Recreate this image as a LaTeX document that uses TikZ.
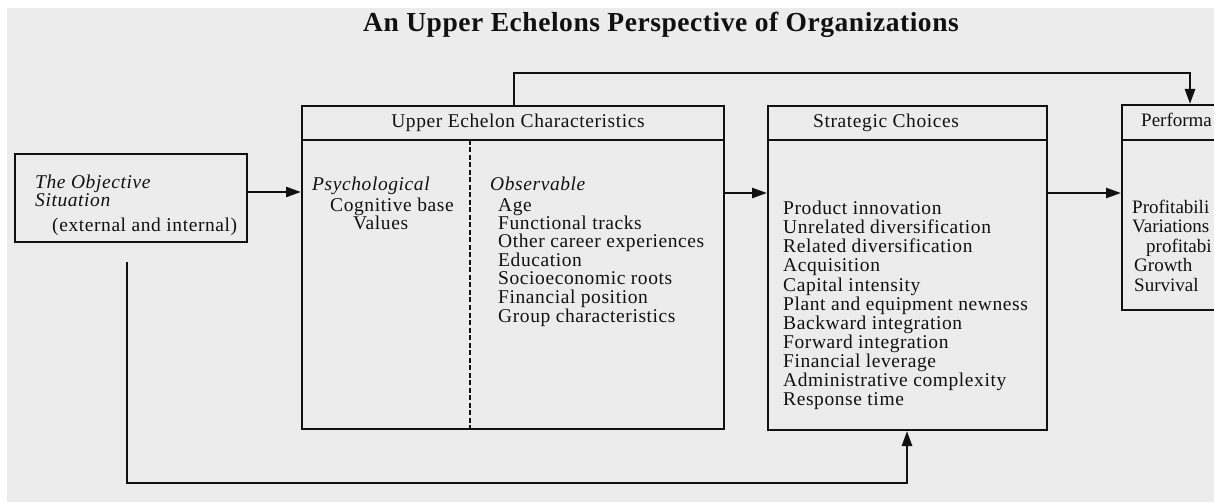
\documentclass[tikz,border=0pt]{standalone}
\usepackage{fontspec}
\setmainfont{Liberation Serif}[LetterSpace=3.0]
\newfontfamily\titlefont{Liberation Serif}[LetterSpace=2.0]
\newfontfamily\tightfont{Liberation Serif}
\usetikzlibrary{arrows.meta}
\definecolor{paper}{HTML}{ECECEC}
\definecolor{ink}{HTML}{111111}
\begin{document}
\begin{tikzpicture}[x=1pt,y=-1pt,
  box/.style={draw=ink, line width=2pt, inner sep=0pt},
  rule/.style={draw=ink, line width=2pt},
  divider/.style={draw=ink, line width=1.4pt, dash pattern=on 5pt off 2.5pt},
  link/.style={draw=ink, line width=2.5pt, -{Triangle[length=15pt,width=10pt]}},
  body/.style={inner sep=0pt, anchor=base west, text=ink, text height=12pt, text depth=3.5pt,
               font=\fontsize{19.5}{20}\selectfont},
  heading/.style={body},
  slanted/.style={body, font=\fontsize{19.5}{20}\selectfont\itshape},
  edgetext/.style={body, font=\tightfont\fontsize{19}{20}\selectfont}]
\useasboundingbox (0,0) rectangle (1214,502);
\fill[white] (0,0) rectangle (1214,502);
\fill[paper] (7,8) rectangle (1214,502);

% title
\node[inner sep=0pt, anchor=base, text=ink,
      font=\titlefont\bfseries\fontsize{27.5}{30}\selectfont] (title) at (661,32)
  {An Upper Echelons Perspective of Organizations};

\begin{scope}
\clip (0,0) rectangle (1214,502);

% boxes
\node[box, minimum width=232pt, minimum height=88pt] (obj) at (131,198) {};
\node[box, minimum width=422pt, minimum height=323pt] (ue) at (513,267.5) {};
\node[box, minimum width=279pt, minimum height=324pt] (strat) at (907.5,268) {};
\node[box, minimum width=198pt, minimum height=205pt] (perf) at (1221,207.5) {};

% heading rules
\coordinate (hy) at (0,140);
\draw[rule] (ue.west |- hy) -- (ue.east |- hy);
\draw[rule] (strat.west |- hy) -- (strat.east |- hy);
\draw[rule] (perf.west |- hy) -- (perf.east |- hy);

% dashed split between psychological and observable
\coordinate (divtop) at (470,140);
\draw[divider] (divtop) -- (ue.south -| divtop);

% headings
\node[heading, anchor=base] (uehead) at (518,128) {Upper Echelon Characteristics};
\node[heading] (strathead) at (813,128) {Strategic Choices};
\node[edgetext] (perfhead) at (1141,127) {Performa};

% objective situation
\node[slanted] (obj1) at (35,189) {The Objective};
\node[slanted] (obj2) at (35,207) {Situation};
\node[body] (obj3) at (52,232) {(external and internal)};

% psychological
\node[slanted] (psy) at (312,191) {Psychological};
\node[body] (psy1) at (330,212) {Cognitive base};
\node[body] (psy2) at (353,229.5) {Values};

% observable
\node[slanted] (obs) at (490,191) {Observable};
\foreach \t/\yy [count=\i] in {Age/212, Functional tracks/229.5,
    Other career experiences/248, Education/266.5, Socioeconomic roots/285,
    Financial position/303.5, Group characteristics/322}
  \node[body] (obs\i) at (498,\yy) {\t};

% strategic choices
\foreach \t [count=\i] in {Product innovation, Unrelated diversification,
    Related diversification, Acquisition, Capital intensity,
    Plant and equipment newness, Backward integration, Forward integration,
    Financial leverage, Administrative complexity, Response time}
  \node[body] (sc\i) at (783,196+19*\i) {\t};

% performance
\node[edgetext] (pf1) at (1132,214) {Profitabili};
\node[edgetext] (pf2) at (1132,233) {Variations};
\node[edgetext] (pf3) at (1146,253) {profitabi};
\node[edgetext] (pf4) at (1134,272) {Growth};
\node[edgetext] (pf5) at (1134,292) {Survival};

% connectors
\coordinate (ya) at (0,192);
\coordinate (yb) at (0,193);
\draw[link] (obj.east |- ya) -- (ue.west |- ya);
\draw[link] (ue.east |- yb) -- (strat.west |- yb);
\draw[link] (strat.east |- yb) -- (perf.west |- yb);

\coordinate (fb1) at (514,73);
\coordinate (fb2) at (1190,73);
\draw[link] (ue.north -| fb1) -- (fb1) -- (fb2) -- (perf.north -| fb2);

\coordinate (lp0) at (127,262);
\coordinate (lp1) at (127,483);
\coordinate (lp2) at (907,483);
\draw[link] (lp0) -- (lp1) -- (lp2) -- (strat.south -| lp2);
\end{scope}
\end{tikzpicture}
\end{document}
